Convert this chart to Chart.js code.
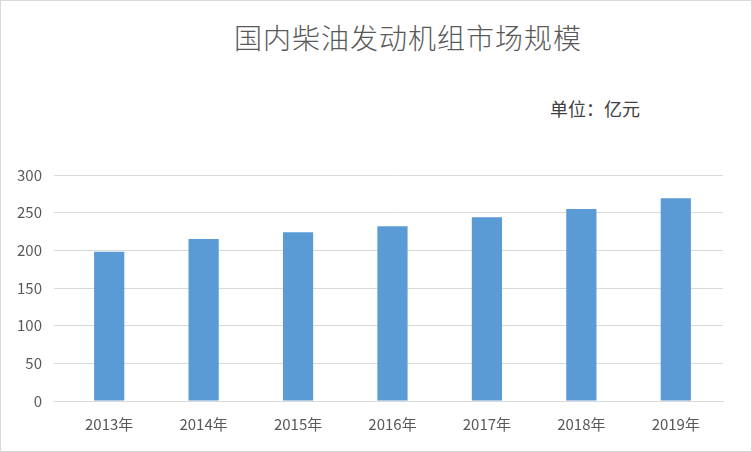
<!DOCTYPE html>
<html>
<head>
<meta charset="utf-8">
<script src="https://cdn.jsdelivr.net/npm/chart.js@4"></script>
<style>
  body { margin: 0; background: #fff; }
  #wrap { position: relative; width: 750px; height: 450px; border: 1px solid #d9d9d9; font-family: "Noto Sans CJK SC", sans-serif; }
  #title { position: absolute; top: 16px; left: 233px; font-size: 28px; font-weight: 300; color: #595959; letter-spacing: 1px; }
  #unit { position: absolute; top: 94px; left: 549px; font-size: 18px; color: #404040; }
  canvas { position: absolute; left: 0; top: 0; }
</style>
</head>
<body>
<div id="wrap">
  <div id="title">国内柴油发动机组市场规模</div>
  <div id="unit">单位：亿元</div>
  <canvas id="c" width="750" height="450"></canvas>
</div>
<script>
// ---------- DATA ----------
const years = ["2013年", "2014年", "2015年", "2016年", "2017年", "2018年", "2019年"];
const marketSize = [198, 215, 224, 232, 244, 255, 269];
const yTicks = [0, 50, 100, 150, 200, 250, 300];

new Chart(document.getElementById("c"), {
  type: "bar",
  data: {
    labels: years,
    datasets: [{
      data: marketSize,
      backgroundColor: "#5b9bd5",
      barPercentage: 0.32,
      categoryPercentage: 1
    }]
  },
  options: {
    responsive: false,
    animation: false,
    layout: { padding: { top: 174, left: 4, right: 28, bottom: 12 } },
    plugins: { legend: { display: false }, tooltip: { enabled: false } },
    scales: {
      x: {
        grid: { display: false },
        border: { color: "#d9d9d9" },
        ticks: { color: "#595959", font: { size: 15, family: "Noto Sans CJK SC" }, padding: 6 }
      },
      y: {
        min: 0,
        max: 300,
        afterBuildTicks: axis => { axis.ticks = yTicks.map(v => ({ value: v })); },
        grid: { color: "#d9d9d9" },
        border: { display: false },
        ticks: { color: "#595959", font: { size: 15, family: "Noto Sans CJK SC" }, padding: 12 }
      }
    }
  }
});
</script>
</body>
</html>
